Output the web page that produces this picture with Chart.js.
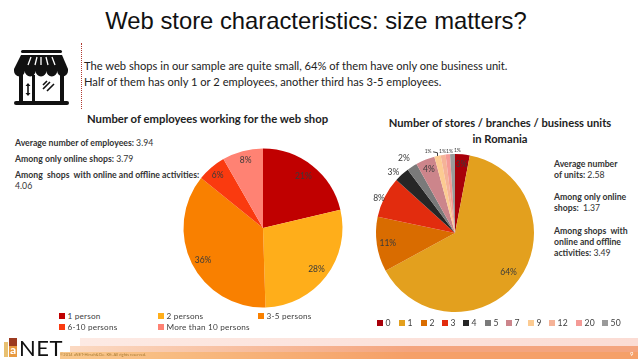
<!DOCTYPE html>
<html><head><meta charset="utf-8">
<script src="https://cdn.jsdelivr.net/npm/chart.js@4"></script>
<style>
html,body{margin:0;padding:0;background:#fff;}
body{width:638px;height:359px;position:relative;overflow:hidden;font-family:Lato,sans-serif;color:#222;}
.t{position:absolute;white-space:nowrap;}
canvas{position:absolute;}
.box{position:absolute;}
.lg{position:absolute;font-size:8.2px;color:#404040;white-space:nowrap;letter-spacing:.2px;}
.lg i{display:inline-block;width:5.5px;height:6px;margin-right:3px;vertical-align:0;}
.note{position:absolute;font-size:8.7px;font-weight:700;color:#333;line-height:11px;white-space:nowrap;}
.note span{font-weight:400;}
</style></head><body>
<div class="t" style="left:0;width:632px;text-align:center;top:7px;font:23.8px 'Liberation Sans',sans-serif;color:#111">Web store characteristics: size matters?</div>
<svg class="box" style="left:10px;top:45px" width="66" height="66" viewBox="0 0 66 66">
<rect x="11" y="5" width="41" height="3" rx="1.5" fill="#111"/>
<path d="M11 10H52L58 24H4Z" fill="#111"/>
<path d="M4 24h54v2a5.4 5.4 0 0 1-10.8 0 5.4 5.4 0 0 1-10.8 0 5.4 5.4 0 0 1-10.8 0 5.4 5.4 0 0 1-10.8 0 5.4 5.4 0 0 1-10.8 0z" fill="#111"/>
<path d="M21 12l-3 8M27 12l-2 8M31 12v8M36 12l2 8M42 12l3 8" stroke="#fff" stroke-width="1.3"/>
<rect x="9" y="30" width="4" height="26" fill="#111"/><rect x="22" y="30" width="3" height="26" fill="#111"/><rect x="50" y="30" width="4" height="26" fill="#111"/>
<path d="M18 39v11" stroke="#111" stroke-width="1.6"/><path d="M15.500 41l2.500-3 2.500 3zM15.500 48l2.500 3 2.500-3z" fill="#111"/>
<path d="M33 44l7-7M37 46l7-7M33 40l4-4" stroke="#111" stroke-width="1.6"/>
<rect x="4" y="56" width="55" height="4" rx="2" fill="#111"/>
</svg>
<div class="box" style="left:81px;top:43px;height:66px;border-left:1px dotted #b03a30"></div>
<div class="t" style="left:84px;top:58px;font-size:11.17px;line-height:15.5px;color:#222">The web shops in our sample are quite small, 64% of them have only one business unit.<br>Half of them has only 1 or 2 employees, another third has 3-5 employees.</div>
<div class="t" style="left:87px;top:112px;font-size:11.3px;font-weight:700;color:#222">Number of employees working for the web shop</div>
<div class="t" style="left:380px;width:240px;text-align:center;top:115px;font-size:11.2px;font-weight:700;line-height:15.5px;color:#222">Number of stores / branches / business units<br>in Romania</div>
<div class="note" style="left:15px;top:137px">Average number of employees: <span>3.94</span></div>
<div class="note" style="left:15px;top:153px">Among only online shops: <span>3.79</span></div>
<div class="note" style="left:15px;top:169px">Among&nbsp; shops&nbsp; with online and offline activities:<br><span>4.06</span></div>
<div class="note" style="left:554px;top:158px">Average number<br>of units: <span>2.58</span></div>
<div class="note" style="left:554px;top:191px">Among only online<br>shops:&nbsp; <span>1.37</span></div>
<div class="note" style="left:554px;top:225px">Among shops&nbsp; with<br>online and offline<br>activities: <span>3.49</span></div>
<canvas id="c1" width="200" height="200" style="left:163px;top:128px;width:200px;height:200px"></canvas>
<canvas id="c2" width="200" height="200" style="left:355px;top:133px;width:200px;height:200px"></canvas>
<div id="lg1"></div><div id="lg2"></div>
<div class="box" style="left:80px;top:338px;width:558px;height:8px;background:linear-gradient(90deg,#fdeae4,#fbdcd4)"></div>
<div class="box" style="left:70px;top:346px;width:568px;height:6px;background:linear-gradient(90deg,#fbd9c2,#f4a57f 60%)"></div>
<div class="box" style="left:60px;top:352px;width:578px;height:7px;background:linear-gradient(90deg,#f9c88c,#f5a068 60%)"></div>
<div class="t" style="left:60px;top:352px;font-size:4px;color:#a77a30">©2014 aNET-Hirsch&amp;Cie. Kft. All rights reserved.</div>
<div class="t" style="left:630px;top:350px;font-size:6px;color:#fff">9</div>
<div class="box" style="left:4px;top:342px;width:4px;height:15px;background:#e8c070"></div>
<div class="box" style="left:9px;top:338px;width:8px;height:8px;background:#9c3a20"></div>
<div class="box" style="left:9px;top:346px;width:8px;height:11px;background:#e89a40"></div>
<div class="t" style="left:10px;top:342px;font-size:12px;font-weight:700;color:#fff">a</div>
<div class="t" style="left:19px;top:334px;font:400 22px Lato,sans-serif;color:#111;letter-spacing:.5px">NET</div>
<script>
const empLabels=['1 person','2 persons','3-5 persons','6-10 persons','More than 10 persons'];
const empValues=[21.3,28.2,36.3,5.9,8.3];
const empText=['21%','28%','36%','6%','8%'];
const empColors=['#C00000','#FFAE1A','#F98000','#FA3A0F','#FF8273'];
const storeLabels=['0','1','2','3','4','5','7','9','12','20','50'];
const storeValues=[3,64,11.2,8.4,3.1,2.1,3.9,1.3,1,0.9,1];
const storeColors=['#A8000A','#E3A01E','#D96C00','#E22C0E','#262626','#7A7A7A','#CC858B','#FCCB92','#F5B398','#F49A96','#9A9A9A'];
const storeText=['3%','64%','11%','8%','3%','2%','4%','1%','1%','1%','1%'];
const empPos=[.8,.8,.8,.8,.8];
const empNudge=[[1,-2],[3,3],[-3,4],[-4,-4],[-1,-6]];
const storePos=[.88,.84,.86,1.05,1.1,1.14,.875,1.08,1.05,1.05,1.05];
const storeNudge=[[0,0],[0,0],[0,0],[-2,3],[-3,3],[-2,1],[0,0],[-8,2],[0,0],[2,1],[5,0]];
const labelPlugin={id:'sliceLabels',afterDatasetsDraw(chart,a,o){
  const ctx=chart.ctx;ctx.save();ctx.textAlign='center';ctx.textBaseline='middle';
  chart.getDatasetMeta(0).data.forEach((arc,i)=>{
    const mid=(arc.startAngle+arc.endAngle)/2,r=arc.outerRadius*o.pos[i];
    const n=o.nudge[i];
    const lx=arc.x+Math.cos(mid)*r+n[0],ly=arc.y+Math.sin(mid)*r+n[1];
    if(o.leader===i){
      const ox=arc.x+Math.cos(mid)*arc.outerRadius,oy=arc.y+Math.sin(mid)*arc.outerRadius;
      ctx.strokeStyle='#111';ctx.lineWidth=.8;ctx.beginPath();
      ctx.moveTo(ox,oy);ctx.lineTo(ox,ly+1);ctx.lineTo(lx+5,ly);ctx.stroke();
    }
    ctx.font=(o.small&&o.small[i]?o.small[i]:8.5)+'px Lato,sans-serif';
    ctx.fillStyle='#3a3a3a';
    ctx.fillText(o.text[i],lx,ly);
  });
  ctx.restore();
}};
function pie(id,labels,values,colors,radius,sl){
  return new Chart(document.getElementById(id),{type:'pie',plugins:[labelPlugin],
    data:{labels,datasets:[{data:values,backgroundColor:colors,borderWidth:0,radius}]},
    options:{responsive:false,animation:false,layout:{padding:0},
      plugins:{legend:{display:false},tooltip:{enabled:false},sliceLabels:sl}}});
}
pie('c1',empLabels,empValues,empColors,79.5,{text:empText,pos:empPos,nudge:empNudge});
pie('c2',storeLabels,storeValues,storeColors,79,{text:storeText,pos:storePos,nudge:storeNudge,leader:7,small:[8.5,8.5,8.5,8.5,8.5,8.5,8.5,5,5,5,5]});
const lg1=[[59,311],[158,311],[258,311],[59,322],[158,322]];
empLabels.forEach((l,i)=>{const d=document.createElement('div');d.className='lg';d.style.left=lg1[i][0]+'px';d.style.top=lg1[i][1]+'px';d.innerHTML='<i style="background:'+empColors[i]+'"></i>'+l;document.getElementById('lg1').appendChild(d);});
const lg2x=[377,399,421,442,463,485,506,528,549,576,602];
storeLabels.forEach((l,i)=>{const d=document.createElement('div');d.className='lg';d.style.left=lg2x[i]+'px';d.style.top='318px';d.style.fontSize='8.6px';d.innerHTML='<i style="background:'+storeColors[i]+'"></i>'+l;document.getElementById('lg2').appendChild(d);});
</script>
</body></html>
